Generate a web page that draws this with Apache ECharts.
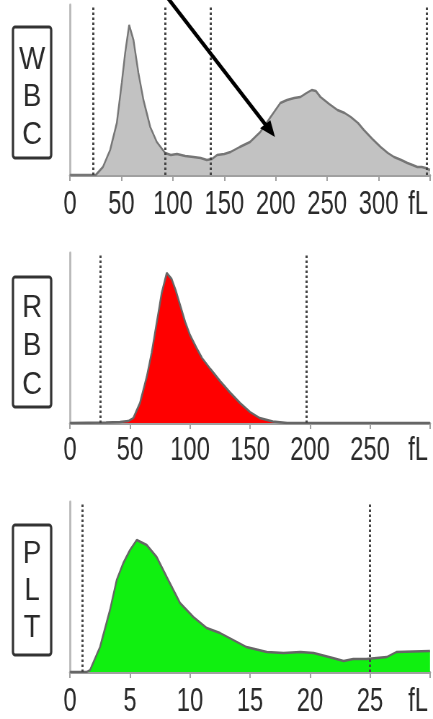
<!DOCTYPE html>
<html>
<head>
<meta charset="utf-8">
<script src="https://cdn.jsdelivr.net/npm/echarts@6/dist/echarts.min.js"></script>
<style>
  html, body { margin: 0; padding: 0; background: #fff; overflow: hidden; }
  #wrap { width: 433px; height: 719px; overflow: hidden; }
  /* the analyser print uses a condensed face: draw wide, then squeeze horizontally */
  #chart { width: 601px; height: 719px; transform: scaleX(0.720466); transform-origin: 0 0; }
</style>
</head>
<body>
<div id="wrap"><div id="chart"></div></div>
<script>
const SX = 433 / 601;
const FONT = '"Liberation Sans", Arial, Helvetica, sans-serif';
const UNIT = 'fL';

// ---- WBC histogram: cell volume (fL) and relative count ----
const wbcVolume = [0, 25, 26, 32, 39, 45.5, 50.3, 53.6, 57.5, 61.7, 66.5, 71.4, 78, 84.4, 92.5, 98, 104, 112, 120, 127, 133, 138, 143, 150, 156, 165, 175, 185, 195, 204.5, 211, 218, 224, 230, 235, 239, 243.5, 252, 260, 267, 273, 280, 285.7, 294, 302, 309, 315, 322, 328, 333, 337.7, 342, 345.7, 350];
const wbcCount  = [0, 0, 1, 8, 25, 52, 92, 122, 150, 135, 102, 75, 48, 33, 22, 20, 21, 19, 18, 17, 15, 16, 20, 21, 23, 28, 33, 43, 58, 72, 75, 77, 78, 82, 85, 84, 78, 71, 65, 62, 58, 52, 45, 36, 28, 22, 18, 15, 12, 10, 8, 8, 7, 5];
const wbcGates  = [22.5, 92.5, 137, 347];

// ---- RBC histogram ----
const rbcVolume = [0, 30, 41.7, 48.6, 52.8, 58.3, 63.9, 68, 72.2, 76.4, 80.6, 84.7, 88, 92, 96, 100, 105, 110, 117, 125, 133, 141.7, 150, 158, 169, 181, 300];
const rbcCount  = [0, 0.5, 1, 2, 5, 20, 46, 70, 100, 130, 150, 144, 133, 117, 101, 88, 76, 65, 54, 42, 31, 20, 11, 5, 1.5, 0, 0];
const rbcGates  = [25, 197];

// ---- PLT histogram ----
const pltVolume = [0, 1.39, 1.67, 2.5, 3.33, 3.89, 4.44, 5.0, 5.56, 6.39, 7.22, 8.06, 9.17, 10.28, 11.39, 12.5, 13.6, 14.7, 16.4, 17.8, 19.2, 20.3, 21.9, 22.8, 23.6, 24.7, 26.4, 27.2, 30];
const pltCount  = [0, 0, 2, 25, 62, 92, 109, 122, 132, 127, 115, 95, 69, 55, 44, 39, 32, 25, 20, 19, 20, 19, 14, 11, 13, 13, 15, 20, 21];
const pltGates  = [1, 25];

// annotation arrow in WBC coordinates (fL, count): tail above the plot, head on the second hump
const arrowFrom = [90.5, 183];
const arrowTo   = [199.3, 38];

const panels = [
  { top: 5,   max: 350, interval: 50, vol: wbcVolume, cnt: wbcCount, gates: wbcGates,
    fill: '#c2c2c2', stroke: '#767676', margin: 13, letters: 'W\nB\nC', box: [27, 131], textY: 97.5, lh: 37.5 },
  { top: 253, max: 300, interval: 50, vol: rbcVolume, cnt: rbcCount, gates: rbcGates,
    fill: '#ff0000', stroke: '#666666', margin: 11, letters: 'R\nB\nC', box: [277, 130], textY: 346.5, lh: 38.5 },
  { top: 502, max: 30,  interval: 5,  vol: pltVolume, cnt: pltCount, gates: pltGates,
    fill: '#10f010', stroke: '#666666', margin: 13, letters: 'P\nL\nT', box: [525, 130], textY: 591, lh: 37 }
];

const grid = [], xAxis = [], yAxis = [], series = [], graphic = [];

panels.forEach((p, i) => {
  grid.push({ left: 70 / SX, right: 601 - 430 / SX, top: p.top, height: 170 });
  xAxis.push({
    gridIndex: i, type: 'value', min: 0, max: p.max, interval: p.interval,
    axisLine: { lineStyle: { color: '#a0a0a0', width: 3 } },
    axisTick: { length: 6, lineStyle: { color: '#a0a0a0', width: 2 } },
    splitLine: { show: false },
    axisLabel: {
      margin: p.margin, fontSize: 33, color: '#2a2a2a', fontFamily: FONT,
      showMinLabel: true, showMaxLabel: true,
      formatter: v => (v === p.max ? '{u|' + UNIT + '}' : String(v)),
      rich: { u: { fontSize: 33, color: '#2a2a2a', fontFamily: FONT, padding: [0, 33, 0, 0] } }
    }
  });
  yAxis.push({
    gridIndex: i, type: 'value', min: 0, max: 170,
    axisLine: { show: true, lineStyle: { color: '#b8b8b8', width: 2.8 } },
    axisTick: { show: false }, axisLabel: { show: false }, splitLine: { show: false }
  });
  series.push({
    type: 'line', xAxisIndex: i, yAxisIndex: i,
    data: p.vol.map((v, k) => [v, p.cnt[k]]),
    symbol: 'none', smooth: false,
    lineStyle: { color: p.stroke, width: 2.4 },
    areaStyle: { color: p.fill, opacity: 1 },
    markLine: {
      silent: true, symbol: 'none', label: { show: false },
      lineStyle: { color: '#444', width: 3, type: [2.5, 2.5] },
      data: p.gates.map(g => ({ xAxis: g }))
    }
  });
  // boxed channel name at the left of each histogram
  graphic.push({
    type: 'rect', shape: { x: 18, y: p.box[0], width: 53, height: p.box[1], r: 3 },
    style: { fill: '#fff', stroke: '#333', lineWidth: 3.2 }
  });
  graphic.push({
    type: 'text', x: 44.5, y: p.textY, scaleX: 1.2,
    style: { text: p.letters, fontSize: 32, lineHeight: p.lh, fontFamily: FONT,
             fill: '#2a2a2a', align: 'center', verticalAlign: 'middle' }
  });
});

const chart = echarts.init(document.getElementById('chart'));
chart.setOption({ animation: false, backgroundColor: '#fff', grid, xAxis, yAxis, series, graphic });

// arrow: positions come from the WBC axes, the head is shaped in on-screen space
const a = chart.convertToPixel({ gridIndex: 0 }, arrowFrom);
const b = chart.convertToPixel({ gridIndex: 0 }, arrowTo);
const ax = a[0] * SX, bx = b[0] * SX;
const dx = bx - ax, dy = b[1] - a[1], len = Math.hypot(dx, dy);
const ux = dx / len, uy = dy / len, nx = -uy, ny = ux;
const L = 16, H = 6.5;
const cx = bx - L * ux, cy = b[1] - L * uy;
const head = [[bx, b[1]], [cx + H * nx, cy + H * ny], [cx - H * nx, cy - H * ny]].map(q => [q[0] / SX, q[1]]);
graphic.push({
  type: 'line', z: 100,
  shape: { x1: a[0], y1: a[1], x2: (cx + 2 * ux) / SX, y2: cy + 2 * uy },
  style: { stroke: '#000', lineWidth: 4.4 }
});
graphic.push({ type: 'polygon', z: 100, shape: { points: head }, style: { fill: '#000' } });
chart.setOption({ graphic });
</script>
</body>
</html>
